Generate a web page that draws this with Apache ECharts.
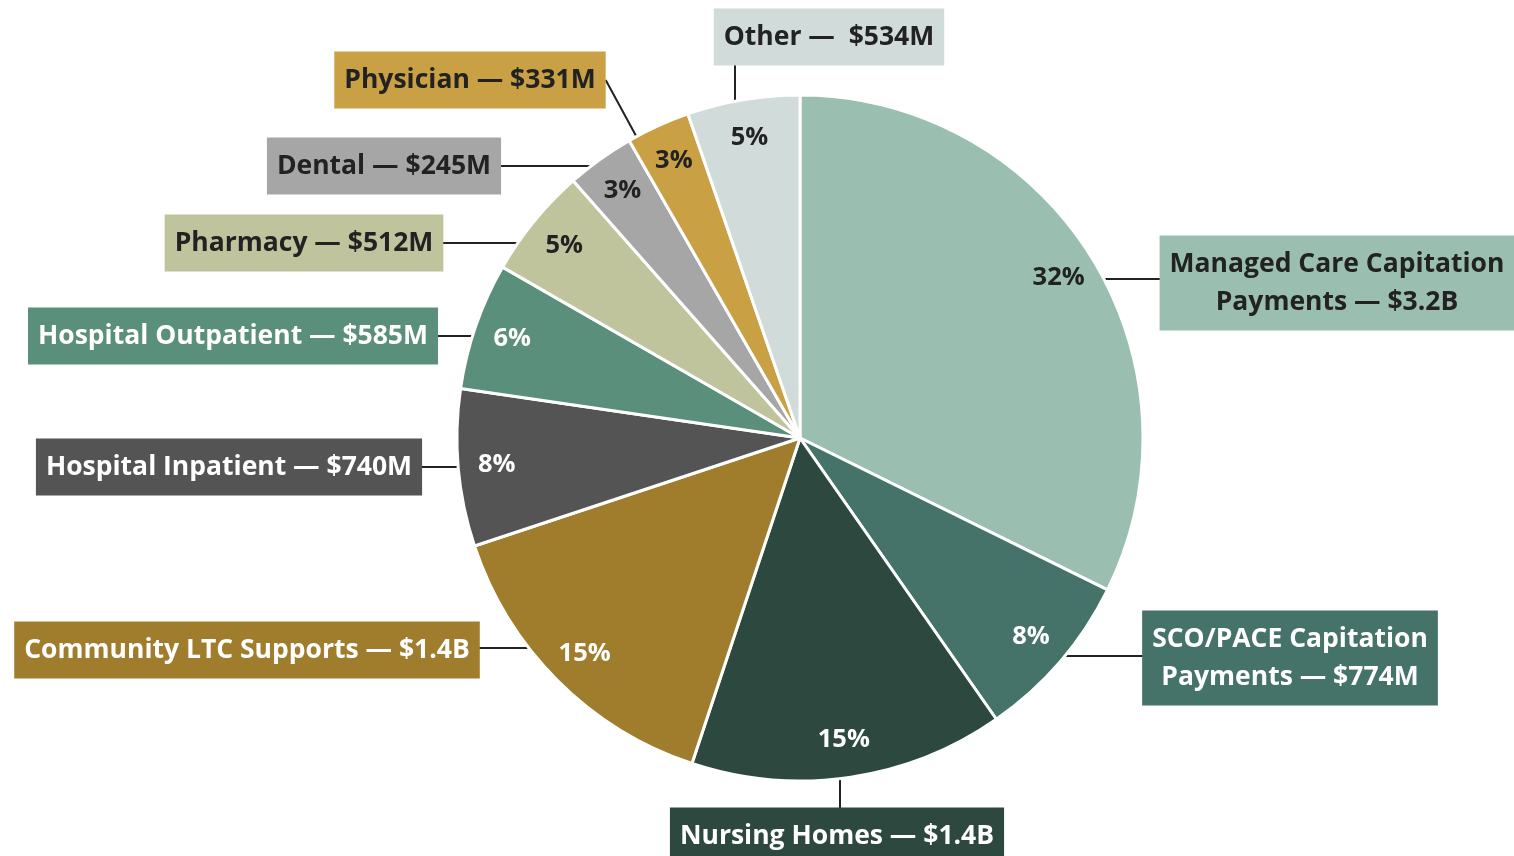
<!DOCTYPE html>
<html>
<head>
<meta charset="utf-8">
<script src="https://cdn.jsdelivr.net/npm/echarts@6/dist/echarts.min.js"></script>
<style>
  html, body { margin: 0; padding: 0; background: #fff; }
  #chart { width: 1514px; height: 856px; }
</style>
</head>
<body>
<div id="chart"></div>
<script>
// slices, clockwise from 12 o'clock
const categories = [
  "Managed Care Capitation Payments",
  "SCO/PACE Capitation Payments",
  "Nursing Homes",
  "Community LTC Supports",
  "Hospital Inpatient",
  "Hospital Outpatient",
  "Pharmacy",
  "Dental",
  "Physician",
  "Other"
];
// share of spending (%)
const shares = [32.3, 8.0, 14.8, 14.8, 7.4, 6.0, 5.2, 3.2, 3.0, 5.3];
const pctLabels = ["32%", "8%", "15%", "15%", "8%", "6%", "5%", "3%", "3%", "5%"];
const amounts = ["$3.2B", "$774M", "$1.4B", "$1.4B", "$740M", "$585M", "$512M", "$245M", "$331M", "$534M"];
const calloutText = [
  "Managed Care Capitation\nPayments — " + amounts[0],
  "SCO/PACE Capitation\nPayments — " + amounts[1],
  "Nursing Homes — " + amounts[2],
  "Community LTC Supports — " + amounts[3],
  "Hospital Inpatient — " + amounts[4],
  "Hospital Outpatient — " + amounts[5],
  "Pharmacy — " + amounts[6],
  "Dental — " + amounts[7],
  "Physician — " + amounts[8],
  "Other —  " + amounts[9]
];

const colors = ["#9abfb0", "#45736a", "#2d483e", "#a07c2d", "#545454", "#5a8f7b", "#c0c49d", "#a6a6a6", "#c9a144", "#d1dbd9"];
const darkText = [true, false, false, false, false, false, true, true, true, true];
// callout box centres and how the leader line runs (h: horizontal, v: vertical, d: to box side)
const calloutSpots = [
  [1337, 283], [1290, 658], [837, 836], [247, 650], [229, 467],
  [233, 336], [304, 243], [384, 166], [470, 80], [829, 37]
];
const leaderMode = ["h", "h", "v", "h", "h", "h", "h", "h", "d", "v"];
const leaderOffset = [-4, -2, 3, -2, 0, 0, 0, 0, 0, -94];

const CX = 800, CY = 438, R = 343;
const FONT = "Open Sans";

const chart = echarts.init(document.getElementById("chart"));

const mainData = categories.map((name, i) => ({
  name: name,
  value: shares[i],
  itemStyle: { color: colors[i] },
  label: {
    formatter: calloutText[i],
    backgroundColor: colors[i],
    color: darkText[i] ? "#222" : "#fff"
  }
}));

const pctData = categories.map((name, i) => ({
  name: name,
  value: shares[i],
  label: {
    formatter: pctLabels[i],
    color: darkText[i] ? "#222" : "#fff"
  }
}));

// cumulative mid angles, used for the diagonal leader
const total = shares.reduce((a, b) => a + b, 0);
const midAngles = [];
let acc = 0;
shares.forEach(v => {
  midAngles.push((acc + v / 2) / total * 2 * Math.PI);
  acc += v;
});

function leaderPoints(i, w, h) {
  const p = calloutSpots[i];
  if (leaderMode[i] === "h") {
    const y = p[1] + leaderOffset[i];
    const side = p[0] > CX ? 1 : -1;
    const ex = CX + side * Math.sqrt(R * R - (y - CY) * (y - CY));
    return [[ex, y], [ex, y], [p[0], y]];
  }
  if (leaderMode[i] === "v") {
    const x = p[0] + leaderOffset[i];
    const side = p[1] > CY ? 1 : -1;
    const ey = CY + side * Math.sqrt(R * R - (x - CX) * (x - CX));
    return [[x, ey], [x, ey], [x, p[1]]];
  }
  const a = midAngles[i] - 0.07;
  const e = [CX + R * Math.sin(a), CY - R * Math.cos(a)];
  return [e, e, [p[0] + w / 2, p[1]]];
}

const option = {
  animation: false,
  series: [
    {
      type: "pie",
      center: [CX, CY],
      radius: R,
      startAngle: 90,
      clockwise: true,
      avoidLabelOverlap: false,
      itemStyle: { borderColor: "#fff", borderWidth: 3 },
      label: {
        show: true,
        position: "outside",
        fontFamily: FONT,
        fontWeight: "bold",
        fontSize: 26.5,
        lineHeight: 38,
        padding: [10, 10, 9, 10],
        align: "center"
      },
      labelLine: {
        show: true,
        length: 20,
        length2: 20,
        lineStyle: { color: "#222", width: 2 }
      },
      labelLayout: function (params) {
        const i = params.dataIndex;
        const p = calloutSpots[i];
        return {
          x: p[0],
          y: p[1],
          align: "center",
          verticalAlign: "middle",
          labelLinePoints: leaderPoints(i, params.labelRect.width, params.labelRect.height)
        };
      },
      emphasis: { disabled: true },
      data: mainData
    },
    {
      type: "pie",
      center: [CX, CY],
      radius: [260, R],
      startAngle: 90,
      clockwise: true,
      silent: true,
      itemStyle: { color: "rgba(0,0,0,0)", borderWidth: 0 },
      label: {
        show: true,
        position: "inside",
        fontFamily: FONT,
        fontWeight: "bold",
        fontSize: 25.5
      },
      labelLine: { show: false },
      emphasis: { disabled: true },
      data: pctData
    }
  ]
};

chart.setOption(option);
</script>
</body>
</html>
